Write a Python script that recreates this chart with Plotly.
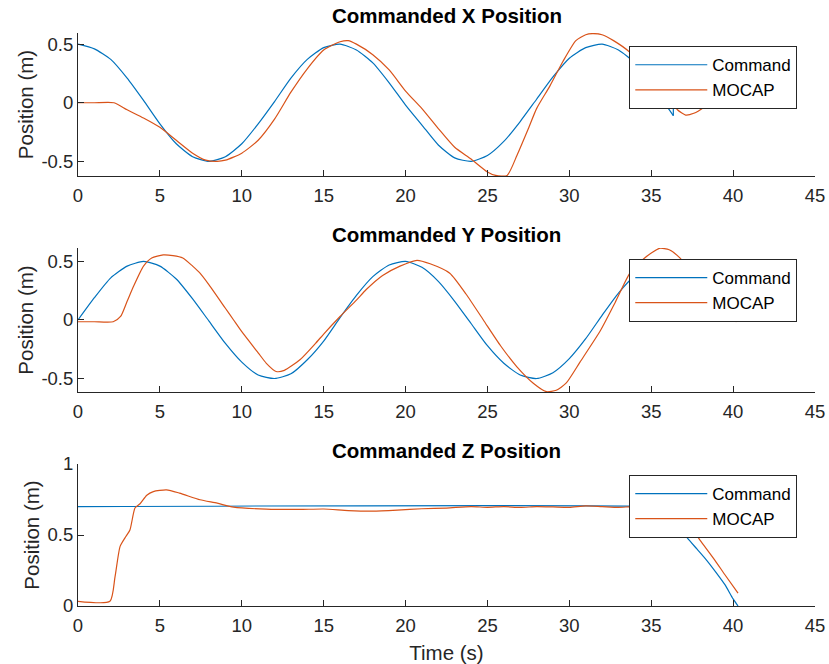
import plotly.graph_objects as go
from plotly.subplots import make_subplots

# ---------------- X position ----------------
t_cmd_x = [0, 1, 2, 3, 4, 5, 6, 7, 8, 9, 10, 11, 12, 13, 14, 15, 16, 17, 18, 19,
           20, 21, 22, 23, 24, 25, 26, 27, 28, 29, 30, 31, 32, 33, 34, 35, 36,
           36.35]
cmd_x = [0.50, 0.46, 0.37, 0.21, 0.02, -0.18, -0.35, -0.46, -0.50, -0.46, -0.35,
         -0.18, 0.01, 0.21, 0.37, 0.47, 0.50, 0.45, 0.34, 0.17, -0.02, -0.19,
         -0.36, -0.47, -0.50, -0.45, -0.33, -0.16, 0.03, 0.22, 0.38, 0.47, 0.50,
         0.45, 0.34, 0.16, -0.04, -0.11]
# command drops to zero and holds after the trajectory ends
t_hold_x = [36.35, 36.35, 40.2]
hold_x = [-0.11, 0.0, 0.0]

t_mocap_x = [0, 1, 2.2, 3, 4, 5, 6, 7, 7.8, 8.5, 9, 10, 11, 12, 13, 14, 15, 16,
             16.5, 17, 18, 19, 20, 21, 22, 23, 24, 25, 25.5, 26.2, 26.8, 27.5,
             28, 28.8, 29.6, 30.4, 31, 31.4, 32, 32.7, 33.7, 34.5, 35.3, 36.1,
             36.6, 37.1, 37.6, 38.2, 38.7, 39.2, 39.7, 40.2]
mocap_x = [0.0, 0.0, 0.0, -0.06, -0.13, -0.21, -0.32, -0.43, -0.49, -0.50, -0.49,
           -0.43, -0.32, -0.14, 0.09, 0.29, 0.45, 0.52, 0.53, 0.50, 0.41, 0.28,
           0.10, -0.05, -0.22, -0.38, -0.48, -0.59, -0.62, -0.62, -0.45, -0.22,
           -0.05, 0.14, 0.35, 0.53, 0.58, 0.59, 0.58, 0.53, 0.43, 0.30, 0.17,
           0.04, -0.06, -0.105, -0.09, -0.04, 0.02, 0.04, 0.03, -0.01]

# ---------------- Y position ----------------
t_cmd_y = [0, 1, 2, 3, 4, 5, 6, 7, 8, 9, 10, 11, 12, 13, 14, 15, 16, 17, 18, 19,
           20, 21, 22, 23, 24, 25, 26, 27, 28, 29, 30, 31, 32, 33, 34, 35, 36,
           36.35]
cmd_y = [0.0, 0.19, 0.36, 0.46, 0.50, 0.46, 0.35, 0.18, -0.01, -0.20, -0.36,
         -0.47, -0.50, -0.46, -0.34, -0.18, 0.02, 0.21, 0.37, 0.47, 0.50, 0.45,
         0.33, 0.16, -0.03, -0.22, -0.37, -0.47, -0.50, -0.45, -0.33, -0.16,
         0.04, 0.23, 0.38, 0.48, 0.50, 0.49]
t_hold_y = [36.35, 36.35, 40.2]
hold_y = [0.49, 0.0, -0.01]

t_mocap_y = [0, 1, 2.15, 2.6, 3.0, 3.4, 4.0, 4.5, 5.2, 5.8, 6.4, 7, 7.45, 8, 9,
             9.5, 10, 11, 11.5, 12.1, 12.6, 13.55, 14.5, 15, 16, 17, 17.6, 18.6,
             19.66, 20.7, 21.5, 22.7, 23.7, 24.75, 25.8, 26.8, 27.8, 28.6, 29.2,
             29.8, 30.65, 31.9, 32.8, 33.7, 34.6, 35.5, 36.1, 36.75, 37.5, 38.2,
             38.9, 39.5, 40.2]
mocap_y = [-0.015, -0.015, -0.015, 0.03, 0.16, 0.29, 0.46, 0.53, 0.556, 0.55,
           0.53, 0.46, 0.40, 0.30, 0.10, 0.0, -0.10, -0.28, -0.37, -0.44, -0.43,
           -0.34, -0.20, -0.12, 0.03, 0.17, 0.26, 0.38, 0.46, 0.51, 0.48, 0.40,
           0.22, 0.0, -0.22, -0.40, -0.54, -0.612, -0.60, -0.54, -0.36, -0.09,
           0.15, 0.40, 0.53, 0.612, 0.60, 0.53, 0.39, 0.23, 0.09, 0.03, -0.015]

# ---------------- Z position ----------------
t_cmd_z = [0, 35, 35.5, 36, 36.6, 37.2, 37.8, 38.4, 39, 39.5, 40, 40.3]
cmd_z = [0.70, 0.70, 0.69, 0.65, 0.57, 0.48, 0.40, 0.32, 0.23, 0.15, 0.05, 0.0]

t_mocap_z = [0, 1.95, 2.26, 2.57, 2.87, 3.17, 3.48, 3.79, 4.2, 4.6, 5.4, 6.2,
             7.45, 8.5, 9.5, 11.5, 13.5, 15, 16.5, 18, 19.5, 21, 22.5, 24, 25,
             26, 27, 28, 29, 30, 31, 32, 33, 34, 35, 35.7, 36.5, 37.4, 38, 38.9,
             39.5, 40.3]
mocap_z = [0.033, 0.033, 0.205, 0.42, 0.48, 0.535, 0.69, 0.72, 0.78, 0.806, 0.818,
           0.795, 0.748, 0.724, 0.696, 0.682, 0.68, 0.683, 0.672, 0.668, 0.675,
           0.685, 0.69, 0.70, 0.695, 0.70, 0.694, 0.70, 0.698, 0.695, 0.705, 0.70,
           0.695, 0.70, 0.69, 0.67, 0.62, 0.556, 0.46, 0.32, 0.22, 0.09]

titles = ["Commanded X Position", "Commanded Y Position", "Commanded Z Position"]
series_names = ["Command", "MOCAP"]
y_ranges = [[-0.625, 0.595], [-0.615, 0.615], [0, 1]]
y_ticks = [[-0.5, 0, 0.5], [-0.5, 0, 0.5], [0, 0.5, 1]]
y_ticktext = [["-0.5", "0", "0.5"], ["-0.5", "0", "0.5"], ["0", "0.5", "1"]]
x_ticks = [0, 5, 10, 15, 20, 25, 30, 35, 40, 45]

BLUE = "#0072BD"
ORANGE = "#D95319"
AX = "#262626"
FONT = "Liberation Sans, Arial, sans-serif"

panels = [
    (t_cmd_x, cmd_x, t_hold_x, hold_x, t_mocap_x, mocap_x),
    (t_cmd_y, cmd_y, t_hold_y, hold_y, t_mocap_y, mocap_y),
    (t_cmd_z, cmd_z, None, None, t_mocap_z, mocap_z),
]

fig = make_subplots(rows=3, cols=1)

legend_ids = ["legend", "legend2", "legend3"]
for i, (tc, vc, th, vh, tm, vm) in enumerate(panels):
    row = i + 1
    fig.add_trace(go.Scatter(x=tc, y=vc, mode="lines", name=series_names[0],
                             line=dict(color=BLUE, width=1.2, shape="spline",
                                       smoothing=0.6),
                             legend=legend_ids[i]), row=row, col=1)
    if th is not None:
        fig.add_trace(go.Scatter(x=th, y=vh, mode="lines", name=series_names[0],
                                 line=dict(color=BLUE, width=1.2),
                                 showlegend=False, legend=legend_ids[i]),
                      row=row, col=1)
    fig.add_trace(go.Scatter(x=tm, y=vm, mode="lines", name=series_names[1],
                             line=dict(color=ORANGE, width=1.2, shape="spline",
                                       smoothing=0.6),
                             legend=legend_ids[i]), row=row, col=1)

y_domains = [[0.7504, 1.0], [0.3735, 0.6248], [0.0, 0.2478]]
title_y = [1.031, 0.6475, 0.272]
legend_top = [0.977, 0.6056, 0.2286]

layout = dict(
    width=829, height=664,
    margin=dict(l=78, r=14, t=33, b=58),
    paper_bgcolor="white", plot_bgcolor="white",
    font=dict(family=FONT, color=AX),
    annotations=[],
)

for i in range(3):
    sfx = "" if i == 0 else str(i + 1)
    layout["xaxis" + sfx] = dict(
        domain=[0, 1], range=[0, 45], tickvals=x_ticks, ticks="inside",
        ticklen=6, tickwidth=1, tickcolor=AX, showline=True, linecolor=AX,
        linewidth=1, showgrid=False, zeroline=False, ticklabelstandoff=3,
        tickfont=dict(size=18.5, color=AX, family=FONT), automargin=False,
        anchor="y" + sfx,
    )
    layout["yaxis" + sfx] = dict(
        domain=y_domains[i], range=y_ranges[i], tickvals=y_ticks[i],
        ticktext=y_ticktext[i], ticks="inside", ticklen=6, tickwidth=1,
        tickcolor=AX, showline=True, linecolor=AX, linewidth=1,
        showgrid=False, zeroline=False, automargin=False,
        tickfont=dict(size=18.5, color=AX, family=FONT),
        title=dict(text="Position (m)", font=dict(size=20.5, color=AX, family=FONT),
                   standoff=2),
        anchor="x" + sfx,
    )
    layout[legend_ids[i]] = dict(
        x=0.748, y=legend_top[i], xanchor="left", yanchor="top",
        bgcolor="white", bordercolor=AX, borderwidth=1,
        font=dict(size=17, color="#000", family=FONT),
        itemwidth=72, tracegroupgap=0,
    )
    layout["annotations"].append(dict(
        text=titles[i], xref="paper", yref="paper", x=0.5, y=title_y[i],
        xanchor="center", yanchor="middle", showarrow=False,
        font=dict(size=20.5, color="#000", family=FONT, weight="bold"),
    ))

layout["xaxis3"]["title"] = dict(text="Time (s)",
                                 font=dict(size=20.5, color=AX, family=FONT),
                                 standoff=10)

fig.update_layout(**layout)
fig.write_html("out.html")
